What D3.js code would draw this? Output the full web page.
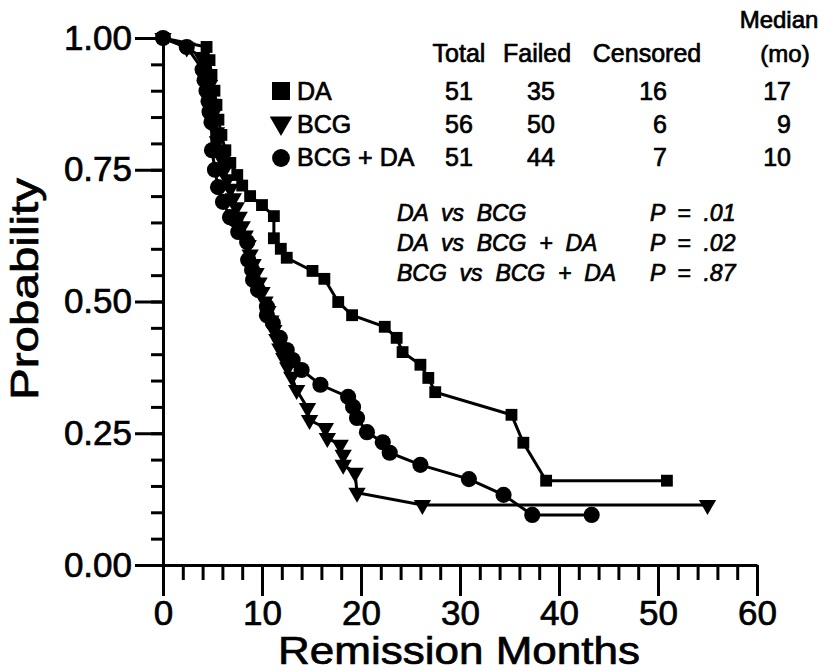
<!DOCTYPE html>
<html>
<head>
<meta charset="utf-8">
<title>Remission curves</title>
<script src="https://cdn.jsdelivr.net/npm/d3@7"></script>
<style>
    body { margin: 0; background: #fff; }
    svg { font-family: "Liberation Sans", Arial, Helvetica, sans-serif; }
    svg text { stroke: #000; stroke-width: 0.7; fill: #000; }
    .axis path, .axis line { stroke: #000; stroke-width: 3; }
    .axis text { font-size: 35px; }
    .curve { fill: none; stroke: #000; stroke-width: 3; }
    .tbl { font-size: 25px; }
    .pv { font-size: 23px; font-style: italic; }
</style>
</head>
<body>
<svg width="822" height="671"></svg>

<script>
    // series: months and survival probability
    const daMonths = [0, 4.4, 4.7, 4.9, 5.2, 5.4, 5.6, 5.9, 6.3, 6.8, 7.5, 8.0, 8.8, 10.0, 11.2, 11.2, 11.9, 12.5, 15.1, 16.3, 17.7, 19.1, 22.4, 23.6, 24.2, 26.0, 26.8, 27.5, 35.2, 36.4, 38.7, 50.9];
    const daProb = [1.0, 0.983, 0.958, 0.93, 0.90, 0.873, 0.845, 0.816, 0.787, 0.763, 0.74, 0.72, 0.70, 0.683, 0.662, 0.62, 0.60, 0.583, 0.558, 0.543, 0.499, 0.474, 0.452, 0.431, 0.404, 0.38, 0.355, 0.328, 0.285, 0.232, 0.16, 0.16];

    const bcgMonths = [0, 2.4, 3.9, 4.3, 4.5, 4.7, 4.8, 5.0, 5.1, 5.2, 5.4, 5.5, 5.7, 6.0, 6.2, 6.5, 6.8, 7.1, 7.4, 7.7, 8.0, 8.3, 8.6, 8.8, 9.1, 9.4, 9.7, 10.0, 10.3, 10.6, 10.9, 11.2, 11.5, 11.8, 12.2, 12.6, 13.0, 13.5, 14.6, 14.8, 16.4, 16.6, 17.9, 18.2, 18.2, 19.4, 19.6, 26.2, 55.0];
    const bcgProb = [1.0, 0.982, 0.964, 0.946, 0.929, 0.911, 0.893, 0.875, 0.857, 0.839, 0.821, 0.804, 0.786, 0.768, 0.75, 0.732, 0.714, 0.696, 0.679, 0.661, 0.643, 0.625, 0.607, 0.589, 0.571, 0.554, 0.536, 0.518, 0.50, 0.482, 0.464, 0.446, 0.429, 0.411, 0.393, 0.375, 0.357, 0.332, 0.298, 0.275, 0.26, 0.241, 0.228, 0.209, 0.19, 0.175, 0.137, 0.114, 0.114];

    const bcdMonths = [0, 2.4, 4.0, 4.2, 4.4, 4.6, 4.7, 4.9, 4.95, 5.25, 5.56, 6.06, 6.77, 7.3, 7.6, 8.5, 8.6, 9.0, 9.1, 9.6, 10.5, 10.5, 11.1, 11.8, 12.5, 13.1, 14.0, 15.9, 18.7, 19.2, 19.6, 20.6, 22.2, 22.9, 26.0, 30.9, 34.4, 37.3, 43.3];
    const bcdProb = [1.0, 0.983, 0.94, 0.92, 0.90, 0.88, 0.86, 0.84, 0.787, 0.75, 0.717, 0.689, 0.66, 0.655, 0.632, 0.613, 0.579, 0.56, 0.541, 0.522, 0.49, 0.474, 0.459, 0.431, 0.408, 0.389, 0.37, 0.342, 0.319, 0.30, 0.279, 0.252, 0.233, 0.213, 0.19, 0.163, 0.133, 0.095, 0.095];

    // table
    const groups = ["DA", "BCG", "BCG + DA"];
    const totals = [51, 56, 51];
    const failed = [35, 50, 44];
    const censored = [16, 6, 7];
    const medians = [17, 9, 10];

    const comparisons = ["DA  vs  BCG", "DA  vs  BCG  +  DA", "BCG  vs  BCG  +  DA"];
    const pValues = ["P  =  .01", "P  =  .02", "P  =  .87"];

    const svg = d3.select("svg");

    const x = d3.scaleLinear().domain([0, 60]).range([163, 757]);
    const y = d3.scaleLinear().domain([0, 1]).range([565, 38]);

    // x axis: minor ticks every 2 months, long ticks every 10
    svg.append("g")
        .attr("class", "axis")
        .attr("transform", `translate(0,${y(0)})`)
        .call(d3.axisBottom(x).tickValues(d3.range(0, 61, 2)).tickSize(15).tickSizeOuter(0).tickFormat(""));
    svg.append("g")
        .attr("class", "axis")
        .attr("transform", `translate(0,${y(0)})`)
        .call(d3.axisBottom(x).tickValues(d3.range(0, 61, 10)).tickSize(31).tickSizeOuter(0).tickPadding(4))
        .call(g => g.select(".domain").remove());

    // y axis
    svg.append("g")
        .attr("class", "axis")
        .attr("transform", `translate(${x(0)},0)`)
        .call(d3.axisLeft(y).tickValues(d3.range(0, 1.001, 0.05)).tickSize(12).tickSizeOuter(0).tickFormat(""));
    svg.append("g")
        .attr("class", "axis")
        .attr("transform", `translate(${x(0)},0)`)
        .call(d3.axisLeft(y).tickValues([0, 0.25, 0.5, 0.75, 1]).tickSize(28).tickSizeOuter(0).tickPadding(3).tickFormat(d3.format(".2f")))
        .call(g => g.select(".domain").remove());
    svg.selectAll(".axis text").attr("stroke-width", 0.8);

    // axis titles
    svg.append("text")
        .attr("x", 459).attr("y", 664)
        .attr("text-anchor", "middle")
        .attr("font-size", 38)
        .attr("textLength", 362).attr("lengthAdjust", "spacingAndGlyphs")
        .text("Remission  Months");
    svg.append("text")
        .attr("transform", "translate(38,289) rotate(-90)")
        .attr("text-anchor", "middle")
        .attr("font-size", 38)
        .attr("textLength", 222).attr("lengthAdjust", "spacingAndGlyphs")
        .text("Probability");

    // curves
    const line = d3.line().x(d => x(d[0])).y(d => y(d[1]));
    const series = [
        { m: daMonths, p: daProb, sym: d3.symbolSquare, size: 140, rot: 0 },
        { m: bcgMonths, p: bcgProb, sym: d3.symbolTriangle, size: 130, rot: 180 },
        { m: bcdMonths, p: bcdProb, sym: d3.symbolCircle, size: 205, rot: 0 }
    ];

    series.forEach(s => {
        const pts = s.m.map((v, i) => [v, s.p[i]]);
        svg.append("path").attr("class", "curve").attr("d", line(pts));
        svg.append("g").selectAll("path")
            .data(pts)
            .join("path")
            .attr("d", d3.symbol().type(s.sym).size(s.size))
            .attr("transform", d => `translate(${x(d[0])},${y(d[1])}) rotate(${s.rot})`)
            .attr("fill", "#000");
    });

    // legend table
    const rowY = [100, 133, 166];
    const legendSym = [
        { sym: d3.symbolSquare, size: 324, rot: 0, dy: -9 },
        { sym: d3.symbolTriangle, size: 220, rot: 180, dy: -10 },
        { sym: d3.symbolCircle, size: 250, rot: 0, dy: -8 }
    ];
    const tbl = svg.append("g").attr("class", "tbl");

    tbl.append("text").attr("x", 459).attr("y", 62).attr("text-anchor", "middle").text("Total");
    tbl.append("text").attr("x", 537).attr("y", 62).attr("text-anchor", "middle").text("Failed");
    tbl.append("text").attr("x", 647).attr("y", 62).attr("text-anchor", "middle").text("Censored");
    tbl.append("text").attr("x", 779).attr("y", 28).attr("text-anchor", "middle").attr("font-size", 24).text("Median");
    tbl.append("text").attr("x", 785).attr("y", 62).attr("text-anchor", "middle").attr("font-size", 24).text("(mo)");

    groups.forEach((g, i) => {
        const ls = legendSym[i];
        tbl.append("path")
            .attr("d", d3.symbol().type(ls.sym).size(ls.size))
            .attr("transform", `translate(281,${rowY[i] + ls.dy}) rotate(${ls.rot})`)
            .attr("fill", "#000");
        tbl.append("text").attr("x", 297).attr("y", rowY[i]).text(g);
        tbl.append("text").attr("x", 459).attr("y", rowY[i]).attr("text-anchor", "middle").text(totals[i]);
        tbl.append("text").attr("x", 541).attr("y", rowY[i]).attr("text-anchor", "middle").text(failed[i]);
        tbl.append("text").attr("x", 667).attr("y", rowY[i]).attr("text-anchor", "end").text(censored[i]);
        tbl.append("text").attr("x", 791).attr("y", rowY[i]).attr("text-anchor", "end").text(medians[i]);
    });

    // comparisons
    comparisons.forEach((c, i) => {
        svg.append("text").attr("class", "pv").attr("x", 397).attr("y", 221 + i * 30)
            .style("white-space", "pre").attr("stroke-width", 0.5).text(c);
        svg.append("text").attr("class", "pv").attr("x", 650).attr("y", 221 + i * 30)
            .style("white-space", "pre").attr("stroke-width", 0.5).text(pValues[i]);
    });
</script>
</body>
</html>
